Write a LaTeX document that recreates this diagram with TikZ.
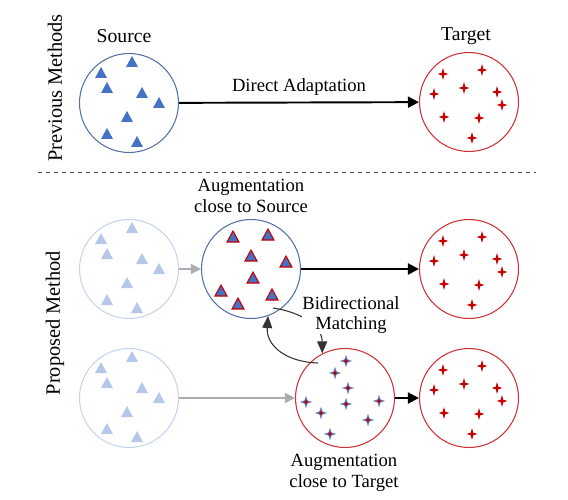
\documentclass[tikz,border=0pt]{standalone}
\usepackage{fontspec}
\setmainfont{Liberation Serif}
\usetikzlibrary{arrows.meta}

\definecolor{srcblue}{RGB}{68,114,196}
\definecolor{srcline}{RGB}{84,112,166}
\definecolor{fadeblue}{RGB}{182,200,232}
\definecolor{fadeline}{RGB}{196,212,240}
\definecolor{tgtred}{RGB}{196,0,0}
\definecolor{tgtline}{RGB}{208,48,54}
\definecolor{arrgray}{RGB}{172,172,172}

\tikzset{
  setcircle/.style={circle, draw, line width=0.6pt, minimum size=1.98cm, inner sep=0pt},
  lbl/.style={align=center, inner sep=1pt},
  side/.style={rotate=90, font=\fontsize{11.6}{13}\selectfont},
  bigarrow/.style={line width=1.1pt, -{Triangle[length=0.22cm, width=0.22cm]}},
  greyarrow/.style={arrgray, line width=0.8pt, -{Triangle[length=0.2cm, width=0.2cm]}},
  bidir/.style={black!80, line width=0.6pt, -{Triangle[length=0.24cm, width=0.2cm]}},
}

\begin{document}
\begin{tikzpicture}[x=0.02cm, y=-0.02cm, font=\fontsize{10.6}{11.6}\selectfont]
\useasboundingbox (0,0) rectangle (568,500);

% sets
\node[setcircle, srcline] (src) at (129,103) {};
\node[setcircle, tgtline] (tgt) at (469,102) {};
\node[setcircle, fadeline] (fadeA) at (129,269) {};
\node[setcircle, fadeline] (fadeB) at (129,398) {};
\node[setcircle, srcline] (augS) at (251,269) {};
\node[setcircle, tgtline] (tgtA) at (469,269) {};
\node[setcircle, tgtline] (augT) at (345,398) {};
\node[setcircle, tgtline] (tgtB) at (469,398) {};

% texts
\node[font=\fontsize{11.2}{12}\selectfont] (lblsrc) at (124,36) {Source};
\node[font=\fontsize{11.2}{12}\selectfont] (lbltgt) at (466,36) {Target};
\node[side] (lblprev) at (55,88) {Previous Methods};
\node[side] (lblprop) at (55,323) {Proposed Method};
\node[lbl] (lblaugS) at (251,196) {Augmentation\\close to Source};
\node[lbl] (lblaugT) at (344,473) {Augmentation\\close to Target};

% separator
\coordinate (sepL) at (38,172);
\coordinate (sepR) at (536,172);
\draw[black!70, line width=0.5pt, dash pattern=on 0.09cm off 0.07cm] (sepL) -- (sepR);

% source triangles
\foreach \c/\col in {src/srcblue, fadeA/fadeblue, fadeB/fadeblue}
  \foreach \x/\y in {3/-41, -28/-30, -22/-15, 13/-10, 30/0, -2/14, -22/31, 8/39}
    {\fill[\col, shift={(\c)}] (\x-6,\y+5) -- (\x+6,\y+5) -- (\x,\y-6) -- cycle;}

% augmented source triangles
\foreach \x/\y in {-18/-32, 17/-34, 0/-13, 35/-7, 2/9, -30/22, 21/26, -13/35}
  {\filldraw[fill=srcblue, draw=tgtred, line width=0.6pt, shift={(augS)}] (\x-6,\y+5) -- (\x+6,\y+5) -- (\x,\y-6) -- cycle;}

% target stars
\foreach \c in {tgt, tgtA, tgtB}
  \foreach \x/\y in {-26/-28, 13/-32, -5/-14, -35/-8, 28/-10, 33/3, -25/15, 10/16, 3/36}
    {\fill[tgtred, shift={(\c)}] (\x,\y-6) -- (\x+1.3,\y-1.3) -- (\x+5.5,\y) -- (\x+1.3,\y+1.3) -- (\x,\y+6) -- (\x-1.3,\y+1.3) -- (\x-5.5,\y) -- (\x-1.3,\y-1.3) -- cycle;}

% augmented target stars
\foreach \x/\y in {1/-37, -10/-25, 3/-10, -39/4, 1/6, 34/3, -24/15, 23/22, -15/36}
  {\fill[srcblue!80, shift={(augT)}] (\x,\y-6.5) -- (\x+1.6,\y-1.6) -- (\x+6.5,\y) -- (\x+1.6,\y+1.6) -- (\x,\y+6.5) -- (\x-1.6,\y+1.6) -- (\x-6.5,\y) -- (\x-1.6,\y-1.6) -- cycle;
   \fill[tgtred!90!black, shift={(augT)}] (\x,\y-3.5) -- (\x+0.8,\y-0.8) -- (\x+3.5,\y) -- (\x+0.8,\y+0.8) -- (\x,\y+3.5) -- (\x-0.8,\y+0.8) -- (\x-3.5,\y) -- (\x-0.8,\y-0.8) -- cycle;}

% connectors
\draw[bigarrow] (src) -- node[above] (lbldirect) {Direct Adaptation} (tgt);
\draw[greyarrow] (fadeA) -- (augS);
\draw[greyarrow] (fadeB) -- (augT);
\draw[bigarrow] (augS) -- (tgtA);
\draw[bigarrow] (augT) -- (tgtB);

% bidirectional matching
\coordinate (bmA) at (318,363);
\coordinate (bmB) at (273,308);
\draw[bidir] (bmA) .. controls (285,362) and (266,345) .. (augS.-70);
\draw[bidir] (bmB) .. controls (300,312) and (322,325) .. (augT.117);
\node[lbl, fill=white, inner sep=0pt] (lblbm) at (351,315) {Bidirectional\\Matching};

\end{tikzpicture}
\end{document}
